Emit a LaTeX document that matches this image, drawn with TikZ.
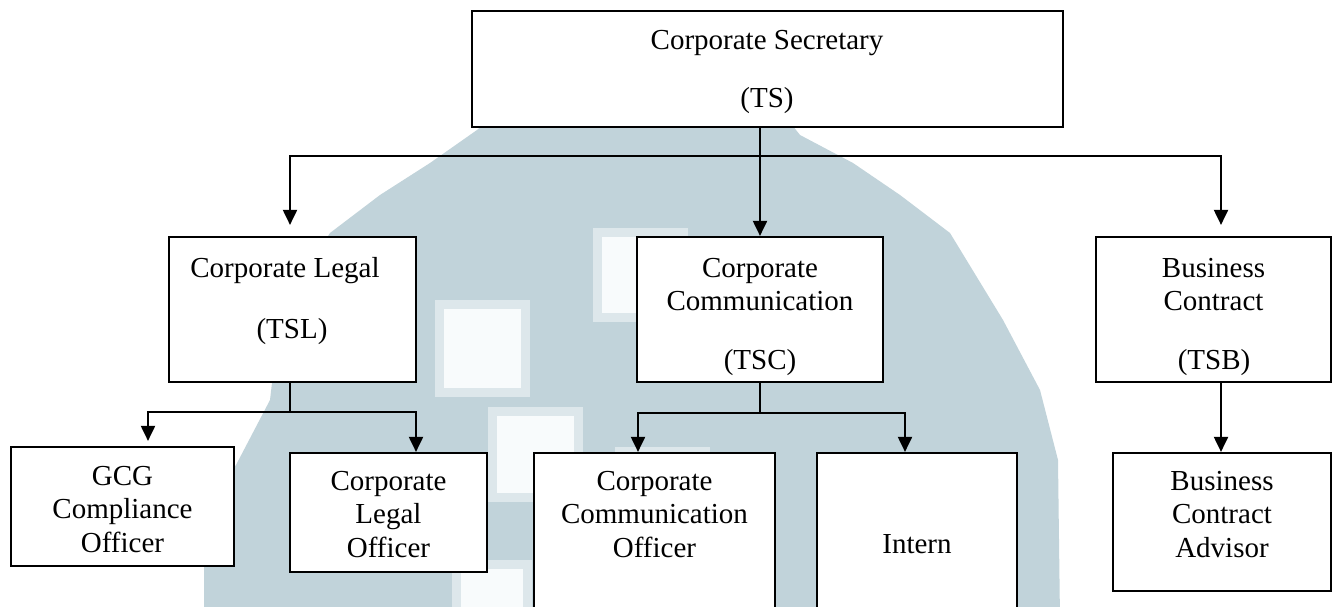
\documentclass[tikz,border=0pt]{standalone}
\usepackage{fontspec}
\setmainfont{Liberation Serif}
\usetikzlibrary{arrows.meta}

\definecolor{wmfill}{RGB}{193,211,218}
\definecolor{wmedge}{RGB}{221,231,235}
\definecolor{wmhole}{RGB}{248,251,252}

% centred multi-line label whose reference point is the first baseline
\newcommand{\orgstack}[1]{\parbox[t]{360pt}{\centering #1}}
% light square cut into the background emblem
\newcommand{\wmsquare}[4]{%
  \fill[wmedge] (#1,#2) rectangle (#3,#4);
  \fill[wmhole] (#1+9,#2+9) rectangle (#3-9,#4-9);}

\tikzset{
  box/.style={draw=black, line width=2.2pt, fill=white, inner sep=0pt},
  ln/.style={draw=black, line width=2pt},
  arr/.style={ln, -{Triangle[length=15pt,width=14pt]}},
  txt/.style={inner sep=0pt, anchor=base, font=\fontsize{29}{33.5}\selectfont},
}

\begin{document}
\begin{tikzpicture}[x=1pt,y=-1pt]
\useasboundingbox (0,0) rectangle (1336,606);
\clip (0,0) rectangle (1336,606);
\fill[white] (0,0) rectangle (1336,606);

% background emblem
\fill[wmfill] (204,620) -- (204,505) -- (236,465) -- (270,400) -- (277,340)
  -- (300,280) -- (330,233) -- (380,195) -- (430,163) -- (477,130)
  -- (500,110) -- (780,110) -- (800,135) -- (853,163) -- (900,195)
  -- (950,233) -- (1003,320) -- (1040,390) -- (1058,460) -- (1060,620) -- cycle;
\wmsquare{435}{300}{530}{397}
\wmsquare{593}{228}{688}{322}
\wmsquare{488}{407}{583}{502}
\wmsquare{615}{447}{710}{540}
\wmsquare{452}{560}{532}{640}

% boxes
\node[box, minimum width=591pt, minimum height=116pt] (ts) at (767.5,69) {};
\node[box, minimum width=247pt, minimum height=145pt] (tsl) at (292.5,309.5) {};
\node[box, minimum width=246pt, minimum height=145pt] (tsc) at (760,309.5) {};
\node[box, minimum width=235pt, minimum height=145pt] (tsb) at (1213.5,309.5) {};
\node[box, minimum width=223pt, minimum height=119pt] (gcg) at (122.5,506.5) {};
\node[box, minimum width=197pt, minimum height=119pt] (clo) at (388.5,512.5) {};
\node[box, minimum width=241pt, minimum height=247pt] (cco) at (654.5,576.5) {};
\node[box, minimum width=200pt, minimum height=247pt] (intern) at (917,576.5) {};
\node[box, minimum width=218pt, minimum height=138pt] (bca) at (1222,522) {};

% labels
\node[txt] (tsA) at (767,49) {Corporate Secretary};
\node[txt] (tsB) at (767,107) {(TS)};
\node[txt] (tslA) at (285,277) {Corporate Legal};
\node[txt] (tslB) at (292,338) {(TSL)};
\node[txt] (tscA) at (760,277) {\orgstack{Corporate\\Communication}};
\node[txt] (tscB) at (760,369) {(TSC)};
\node[txt] (tsbA) at (1213.5,277) {\orgstack{Business\\Contract}};
\node[txt] (tsbB) at (1214,369) {(TSB)};
\node[txt] (gcgA) at (122.5,485) {\orgstack{GCG\\Compliance\\Officer}};
\node[txt] (cloA) at (388.5,490) {\orgstack{Corporate\\Legal\\Officer}};
\node[txt] (ccoA) at (654.5,490) {\orgstack{Corporate\\Communication\\Officer}};
\node[txt] (intA) at (917,553) {Intern};
\node[txt] (bcaA) at (1222,490) {\orgstack{Business\\Contract\\Advisor}};

% junction points
\coordinate (busL) at (290,156);
\coordinate (busR) at (1221,156);
\coordinate (legJ) at (290,412);
\coordinate (legL) at (148,412);
\coordinate (legR) at (416,412);
\coordinate (comJ) at (760,413);
\coordinate (comL) at (638,413);
\coordinate (comR) at (905,413);

% first level
\draw[arr] (ts.south -| tsc.north) -- (tsc.north);
\draw[arr, shorten >=11pt] (busR) -- (busL) -- (busL |- tsl.north);
\draw[arr, shorten >=11pt] (busL) -- (busR) -- (busR |- tsb.north);

% under Corporate Legal
\draw[ln] (tsl.south -| legJ) -- (legJ);
\draw[arr, shorten >=5pt] (legR) -- (legL) -- (legL |- gcg.north);
\draw[arr] (legL) -- (legR) -- (legR |- clo.north);

% under Corporate Communication
\draw[ln] (tsc.south) -- (comJ);
\draw[arr] (comR) -- (comL) -- (comL |- cco.north);
\draw[arr] (comL) -- (comR) -- (comR |- intern.north);

% under Business Contract
\draw[arr] (tsb.south -| busR) -- (busR |- bca.north);
\end{tikzpicture}
\end{document}
